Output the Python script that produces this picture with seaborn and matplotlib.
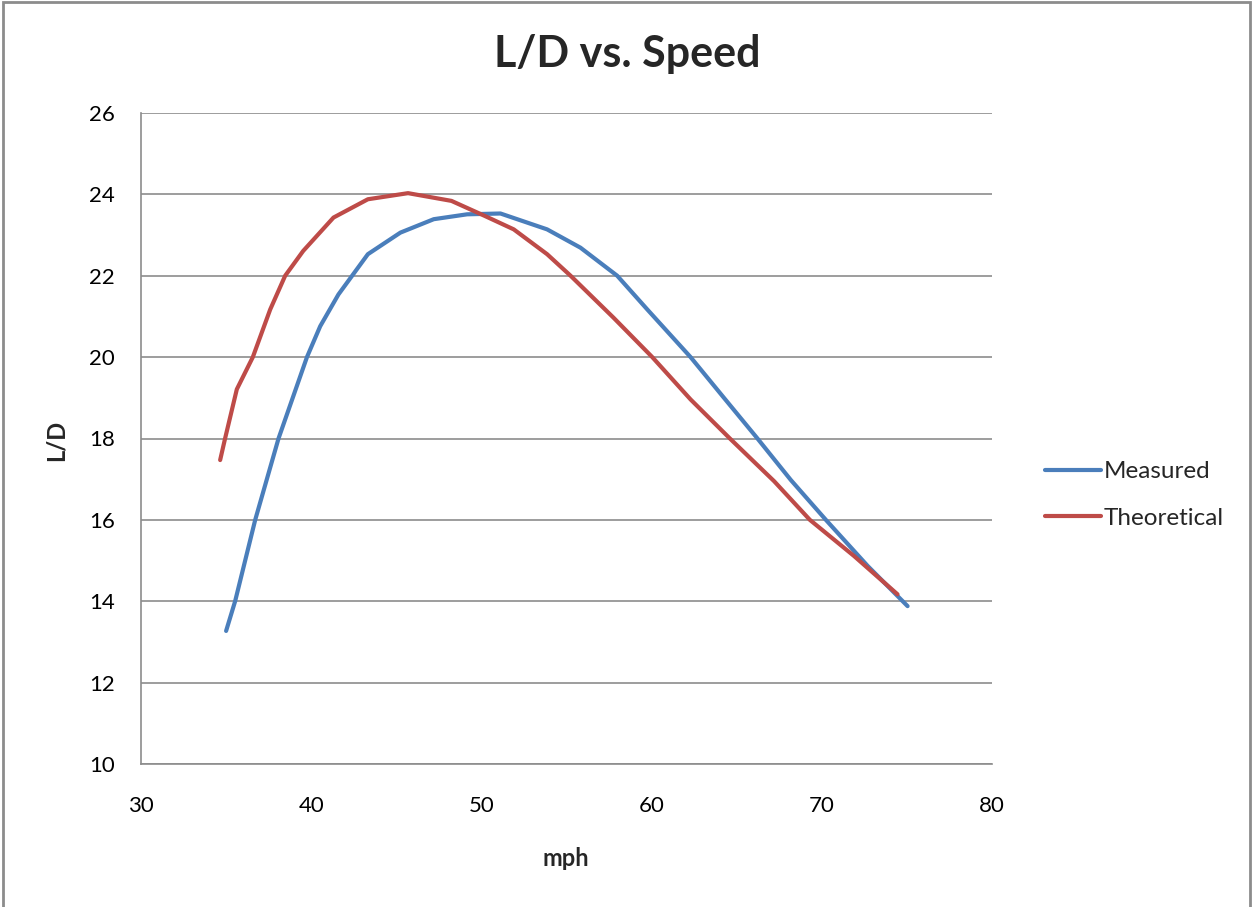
import matplotlib
matplotlib.use("Agg")
import matplotlib.pyplot as plt
from matplotlib.patches import Rectangle
import seaborn as sns
import pandas as pd

# ---- data ----
measured_mph = [35.0, 35.53, 36.71, 38.08, 39.75, 40.53, 41.6, 43.33, 45.24, 47.2,
                49.16, 51.12, 53.86, 55.82, 57.98, 59.75, 62.29, 64.25, 66.22,
                68.18, 70.24, 72.69, 75.04]
measured_ld = [13.27, 14.0, 16.0, 18.0, 20.0, 20.76, 21.54, 22.53, 23.06, 23.39,
               23.51, 23.53, 23.14, 22.69, 22.0, 21.17, 20.0, 19.0, 18.0,
               16.98, 16.0, 14.87, 13.88]
theoretical_mph = [34.65, 34.94, 35.63, 36.57, 37.59, 38.47, 39.53, 41.31, 43.33,
                   45.69, 48.24, 50.2, 51.9, 53.86, 55.24, 57.76, 60.04, 62.29,
                   64.6, 67.2, 69.3, 71.9, 74.45]
theoretical_ld = [17.47, 18.0, 19.21, 20.0, 21.17, 22.0, 22.61, 23.43, 23.88,
                  24.03, 23.84, 23.47, 23.14, 22.53, 22.0, 20.97, 20.0, 18.96,
                  18.0, 16.95, 16.0, 15.11, 14.17]
series_names = ["Measured", "Theoretical"]
x_ticks = [30, 40, 50, 60, 70, 80]
y_ticks = [10, 12, 14, 16, 18, 20, 22, 24, 26]

df = pd.concat([
    pd.DataFrame({"mph": measured_mph, "L/D": measured_ld, "series": series_names[0]}),
    pd.DataFrame({"mph": theoretical_mph, "L/D": theoretical_ld, "series": series_names[1]}),
], ignore_index=True)

sns.set_theme(style="white")
plt.rcParams["font.family"] = ["Lato", "DejaVu Sans"]

W, H = 1252, 907
fig = plt.figure(figsize=(W / 100, H / 100), dpi=100)
ax = fig.add_axes([141 / W, 1 - 764 / H, (992 - 141) / W, (764 - 113) / H])

palette = {"Measured": "#4a7ebb", "Theoretical": "#be4b48"}
sns.lineplot(data=df, x="mph", y="L/D", hue="series", palette=palette,
             sort=False, estimator=None, linewidth=3.0, ax=ax,
             solid_capstyle="round", solid_joinstyle="round")

ax.set_xlim(30, 80)
ax.set_ylim(10, 26)
ax.set_xticks(x_ticks)
ax.set_yticks(y_ticks)
ax.set_xticklabels([str(t) for t in x_ticks])
ax.set_yticklabels([str(t) for t in y_ticks])
ax.tick_params(axis="both", length=0, labelsize=16, colors="#000000")
ax.tick_params(axis="y", pad=19)
ax.tick_params(axis="x", pad=23)

ax.yaxis.grid(True, color="#8c8c8c", linewidth=1.2)
ax.xaxis.grid(False)
for s in ["top", "right"]:
    ax.spines[s].set_visible(False)
for s in ["left", "bottom"]:
    ax.spines[s].set_color("#8c8c8c")
    ax.spines[s].set_linewidth(1.2)
ax.set_axisbelow(True)

ax.set_xlabel("")
ax.set_ylabel("")
fig.text(566 / W, 1 - 866 / H, "mph", ha="center", va="baseline",
         fontsize=17, fontweight="bold")
fig.text(56 / W, 1 - 440 / H, "L/D", ha="center", va="center",
         rotation=90, fontsize=17, fontweight="bold")
fig.text(627 / W, 1 - 67 / H, "L/D vs. Speed", ha="center", va="baseline",
         fontsize=31, fontweight="bold")

handles, labels = ax.get_legend_handles_labels()
ax.legend(handles=handles, labels=labels, loc="center left",
          bbox_to_anchor=(1045 / W, 1 - 495 / H), bbox_transform=fig.transFigure,
          frameon=False, fontsize=17.5, handlelength=2.3, handletextpad=0.12,
          labelspacing=1.05, borderpad=0, borderaxespad=0)

fig.patches.append(Rectangle((2.5 / W, -0.01), (W - 5) / W, 1.0 - 1.5 / H + 0.01,
                             transform=fig.transFigure, fill=False,
                             edgecolor="#8c8c8c", linewidth=2.0))

fig.savefig("out.png", dpi=100)
